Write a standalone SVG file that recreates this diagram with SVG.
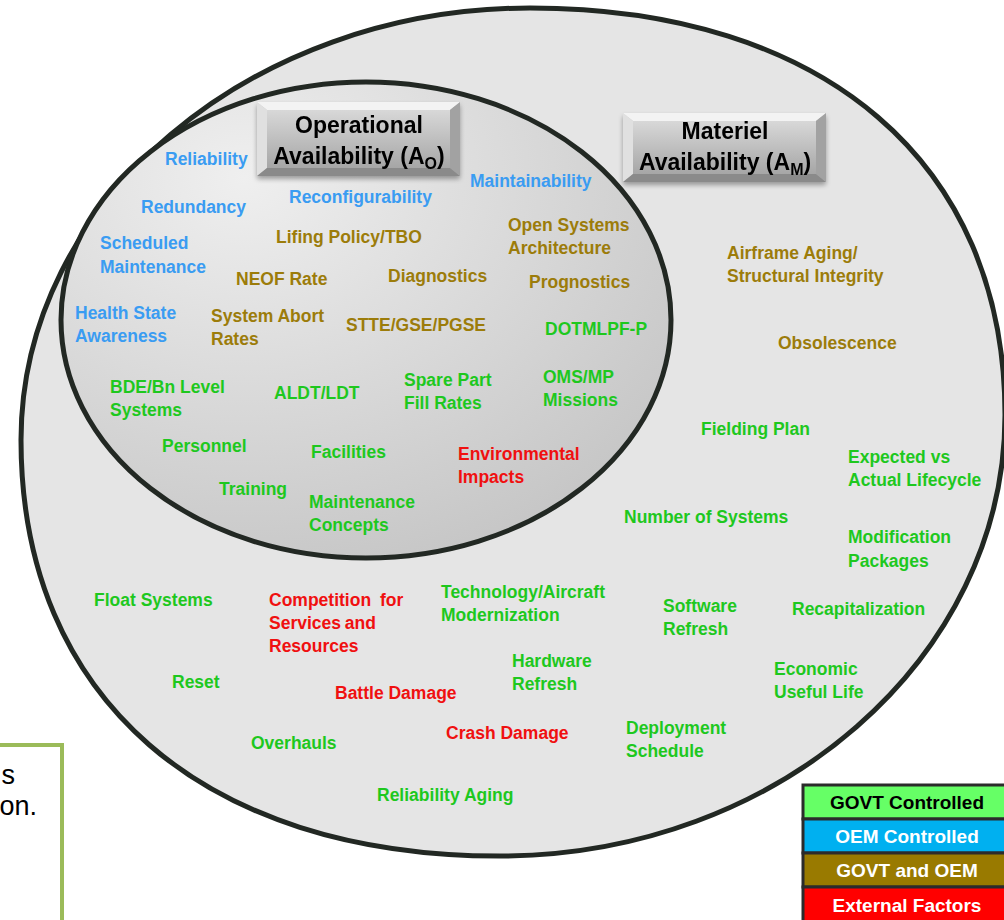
<svg xmlns="http://www.w3.org/2000/svg" width="1004" height="920" viewBox="0 0 1004 920">
  <defs>
    <radialGradient id="innerFill" cx="0.3" cy="0.2" r="0.95">
      <stop offset="0" stop-color="#efefef"/>
      <stop offset="1" stop-color="#c2c2c2"/>
    </radialGradient>
    <linearGradient id="face" x1="0" y1="0" x2="0" y2="1">
      <stop offset="0" stop-color="#d8d8d8"/>
      <stop offset="1" stop-color="#a6a6a6"/>
    </linearGradient>
    <filter id="shadow" x="-10%" y="-10%" width="120%" height="140%">
      <feGaussianBlur in="SourceAlpha" stdDeviation="2.5"/>
      <feOffset dy="3" result="b"/>
      <feComponentTransfer><feFuncA type="linear" slope="0.35"/></feComponentTransfer>
      <feMerge><feMergeNode/><feMergeNode in="SourceGraphic"/></feMerge>
    </filter>
  </defs>
  <style>
    text { font-family: "Liberation Sans", Arial, sans-serif; font-weight: bold; font-size: 17.5px; }
    .b { fill: #3a9cf2; }
    .o { fill: #9c7c0a; }
    .g { fill: #1ec81e; }
    .r { fill: #f01010; }
    .ring { stroke: #222823; stroke-width: 5; }
    .title { font-size: 23px; fill: #000; text-anchor: middle; }
    .bt { fill: #f3f3f3; } .bl { fill: #e0e0e0; } .br { fill: #a2a2a2; } .bb { fill: #8a8a8a; }
    .leg { font-size: 19px; text-anchor: middle; }
    .legrow { stroke: #2b2b2b; stroke-width: 3; }
    .note { font-family: "Liberation Sans", Arial, sans-serif; font-weight: normal; font-size: 27px; fill: #000; text-anchor: end; }
  </style>

  <rect width="1004" height="920" fill="#ffffff"/>

  <!-- Materiel availability set (outer, slightly squarish oval) -->
  <g id="materiel-set">
    <path class="ring" fill="#e5e5e5" d="M21,440 C21,202 250,8 530,8 C824,8 1005,163 1005,415 C1005,658 778,856 500,856 C203,856 21,698 21,440 Z"/>
  </g>

  <!-- Operational availability set (inner) -->
  <g id="operational-set">
    <ellipse cx="366" cy="320" rx="305" ry="238" fill="url(#innerFill)" class="ring"/>
  </g>

  <!-- Bevelled title plates -->
  <g id="title-ao" filter="url(#shadow)">
    <polygon class="bt" points="257,102 460,102 450,110 267,110"/>
    <polygon class="bl" points="257,102 267,110 267,168 257,176"/>
    <polygon class="br" points="460,102 460,176 450,168 450,110"/>
    <polygon class="bb" points="257,176 267,168 450,168 460,176"/>
    <rect x="267" y="110" width="183" height="58" fill="url(#face)"/>
    <text class="title" x="359" y="133">Operational</text>
    <text class="title" x="359" y="164">Availability (A<tspan font-size="16" dy="5">O</tspan><tspan dy="-5">)</tspan></text>
  </g>

  <g id="title-am" filter="url(#shadow)">
    <polygon class="bt" points="623,113 826,113 816,121 633,121"/>
    <polygon class="bl" points="623,113 633,121 633,174 623,182"/>
    <polygon class="br" points="826,113 826,182 816,174 816,121"/>
    <polygon class="bb" points="623,182 633,174 816,174 826,182"/>
    <rect x="633" y="121" width="183" height="53" fill="url(#face)"/>
    <text class="title" x="725" y="139">Materiel</text>
    <text class="title" x="725" y="170">Availability (A<tspan font-size="16" dy="5">M</tspan><tspan dy="-5">)</tspan></text>
  </g>

  <!-- Factors inside the operational set -->
  <g id="reliability"><text class="b" x="165" y="165">Reliability</text></g>
  <g id="redundancy"><text class="b" x="141" y="213">Redundancy</text></g>
  <g id="reconfigurability"><text class="b" x="289" y="203">Reconfigurability</text></g>
  <g id="maintainability"><text class="b" x="470" y="187">Maintainability</text></g>
  <g id="scheduled-maintenance"><text class="b" x="100" y="249">Scheduled<tspan x="100" dy="24">Maintenance</tspan></text></g>
  <g id="lifing-policy"><text class="o" x="276" y="243">Lifing Policy/TBO</text></g>
  <g id="open-systems"><text class="o" x="508" y="231">Open Systems<tspan x="508" dy="23">Architecture</tspan></text></g>
  <g id="neof-rate"><text class="o" x="236" y="285">NEOF Rate</text></g>
  <g id="diagnostics"><text class="o" x="388" y="282">Diagnostics</text></g>
  <g id="prognostics"><text class="o" x="529" y="288">Prognostics</text></g>
  <g id="health-state"><text class="b" x="75" y="319">Health State<tspan x="75" dy="23">Awareness</tspan></text></g>
  <g id="system-abort"><text class="o" x="211" y="322">System Abort<tspan x="211" dy="23">Rates</tspan></text></g>
  <g id="stte"><text class="o" x="346" y="331">STTE/GSE/PGSE</text></g>
  <g id="dotmlpf"><text class="g" x="545" y="335">DOTMLPF-P</text></g>
  <g id="bde-bn"><text class="g" x="110" y="393">BDE/Bn Level<tspan x="110" dy="23">Systems</tspan></text></g>
  <g id="aldt"><text class="g" x="274" y="399">ALDT/LDT</text></g>
  <g id="spare-part"><text class="g" x="404" y="386">Spare Part<tspan x="404" dy="23">Fill Rates</tspan></text></g>
  <g id="oms-mp"><text class="g" x="543" y="383">OMS/MP<tspan x="543" dy="23">Missions</tspan></text></g>
  <g id="personnel"><text class="g" x="162" y="452">Personnel</text></g>
  <g id="facilities"><text class="g" x="311" y="458">Facilities</text></g>
  <g id="environmental"><text class="r" x="458" y="460">Environmental<tspan x="458" dy="23">Impacts</tspan></text></g>
  <g id="training"><text class="g" x="219" y="495">Training</text></g>
  <g id="maintenance-concepts"><text class="g" x="309" y="508">Maintenance<tspan x="309" dy="23">Concepts</tspan></text></g>

  <!-- Factors in the materiel set only -->
  <g id="airframe-aging"><text class="o" x="727" y="259">Airframe Aging/<tspan x="727" dy="23">Structural Integrity</tspan></text></g>
  <g id="obsolescence"><text class="o" x="778" y="349">Obsolescence</text></g>
  <g id="fielding-plan"><text class="g" x="701" y="435">Fielding Plan</text></g>
  <g id="expected-lifecycle"><text class="g" x="848" y="463">Expected vs<tspan x="848" dy="23">Actual Lifecycle</tspan></text></g>
  <g id="number-of-systems"><text class="g" x="624" y="523">Number of Systems</text></g>
  <g id="modification-packages"><text class="g" x="848" y="543">Modification<tspan x="848" dy="24">Packages</tspan></text></g>
  <g id="float-systems"><text class="g" x="94" y="606">Float Systems</text></g>
  <g id="competition"><text class="r" x="269" y="606" word-spacing="4">Competition for<tspan x="269" dy="23" word-spacing="-1">Services and</tspan><tspan x="269" dy="23">Resources</tspan></text></g>
  <g id="technology-modernization"><text class="g" x="441" y="598">Technology/Aircraft<tspan x="441" dy="23">Modernization</tspan></text></g>
  <g id="software-refresh"><text class="g" x="663" y="612">Software<tspan x="663" dy="23">Refresh</tspan></text></g>
  <g id="recapitalization"><text class="g" x="792" y="615">Recapitalization</text></g>
  <g id="reset"><text class="g" x="172" y="688">Reset</text></g>
  <g id="battle-damage"><text class="r" x="335" y="699">Battle Damage</text></g>
  <g id="hardware-refresh"><text class="g" x="512" y="667">Hardware<tspan x="512" dy="23">Refresh</tspan></text></g>
  <g id="economic-life"><text class="g" x="774" y="675">Economic<tspan x="774" dy="23">Useful Life</tspan></text></g>
  <g id="overhauls"><text class="g" x="251" y="749">Overhauls</text></g>
  <g id="crash-damage"><text class="r" x="446" y="739">Crash Damage</text></g>
  <g id="deployment-schedule"><text class="g" x="626" y="734">Deployment<tspan x="626" dy="23">Schedule</tspan></text></g>
  <g id="reliability-aging"><text class="g" x="377" y="801">Reliability Aging</text></g>

  <!-- Note panel at lower left -->
  <g id="note">
    <rect x="-10" y="745" width="72" height="190" fill="#ffffff" stroke="#9bbb59" stroke-width="4"/>
    <text class="note" x="15" y="784">s</text>
    <text class="note" x="37" y="815">on.</text>
  </g>

  <!-- Colour key -->
  <g id="legend">
    <rect class="legrow" x="803" y="785" width="205" height="34" fill="#66ff66"/>
    <rect class="legrow" x="803" y="819" width="205" height="34" fill="#00b0f0"/>
    <rect class="legrow" x="803" y="853" width="205" height="34" fill="#997a00"/>
    <rect class="legrow" x="803" y="887" width="205" height="36" fill="#ff0000"/>
    <text class="leg" x="907" y="809" fill="#000">GOVT Controlled</text>
    <text class="leg" x="907" y="843" fill="#ffffff">OEM Controlled</text>
    <text class="leg" x="907" y="877" fill="#ffffff">GOVT and OEM</text>
    <text class="leg" x="907" y="912" fill="#ffffff">External Factors</text>
  </g>
</svg>
